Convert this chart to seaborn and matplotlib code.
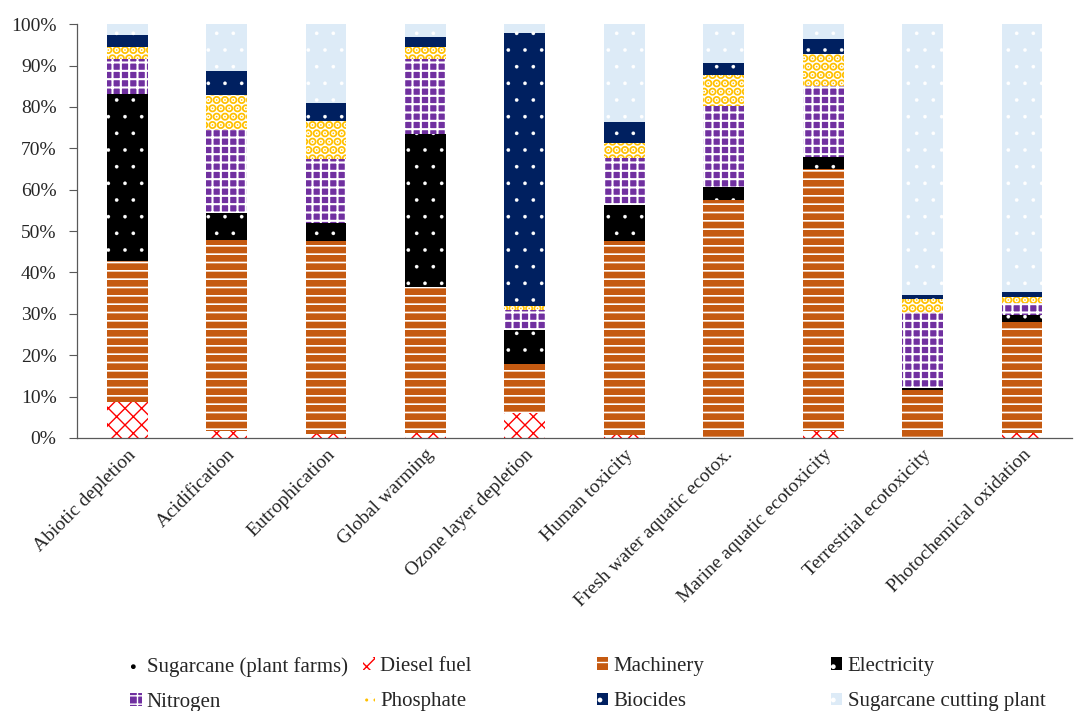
import matplotlib
matplotlib.use("Agg")
import matplotlib.pyplot as plt
import seaborn as sns
import numpy as np
from matplotlib.patches import Patch
from matplotlib.ticker import PercentFormatter

categories = ["Abiotic depletion", "Acidification", "Eutrophication", "Global warming",
              "Ozone layer depletion", "Human toxicity", "Fresh water aquatic ecotox.",
              "Marine aquatic ecotoxicity", "Terrestrial ecotoxicity", "Photochemical oxidation"]

# share of each source (%), bottom to top
sugarcane_farms = [0, 0, 0, 0, 0, 0, 0, 0, 0, 0]
diesel = [8.8, 1.8, 1.0, 1.3, 6.0, 0.7, 0.0, 1.8, 0.0, 1.2]
machinery = [34.0, 46.0, 46.5, 35.3, 11.9, 47.0, 57.5, 63.1, 11.5, 26.9]
electricity = [40.3, 6.5, 4.5, 36.8, 8.3, 8.6, 3.1, 2.9, 0.5, 1.6]
nitrogen = [8.6, 20.1, 15.5, 18.3, 4.7, 11.3, 19.6, 17.2, 18.1, 3.0]
phosphate = [2.7, 8.4, 9.0, 2.7, 1.1, 3.8, 7.5, 7.9, 3.6, 1.3]
biocides = [3.1, 5.9, 4.5, 2.4, 65.9, 4.9, 2.9, 3.6, 0.8, 1.3]
cutting_plant = [2.5, 11.3, 19.0, 3.2, 2.1, 23.7, 9.4, 3.5, 65.5, 64.7]

# name, values, face, hatch colour, hatch, hatch linewidth
series = [
    ("Sugarcane (plant farms)", sugarcane_farms, "white", "black", ".", 0.3),
    ("Diesel fuel", diesel, "white", "#FF0000", "xx", 1.0),
    ("Machinery", machinery, "#C55A11", "white", "--", 1.2),
    ("Electricity", electricity, "black", "white", ".", 0.2),
    ("Nitrogen", nitrogen, "#7030A0", "white", "++", 1.5),
    ("Phosphate", phosphate, "white", "#FFC000", "..", 4.5),
    ("Biocides", biocides, "#002060", "white", ".", 0.2),
    ("Sugarcane cutting plant", cutting_plant, "#DDEBF7", "white", ".", 0.2),
]


def set_hatch_lw(patch, lw):
    if hasattr(patch, "set_hatch_linewidth"):
        patch.set_hatch_linewidth(lw)


sns.set_theme(style="white")
plt.rcParams['font.family'] = ['Liberation Serif', 'DejaVu Serif']

fig = plt.figure(figsize=(10.75, 7.11), dpi=100)
ax = fig.add_axes([0.072, 0.384, 0.925, 0.582])

# stacked bars: draw cumulative totals from the top layer down
cum = np.cumsum([s[1] for s in series], axis=0)
for i in range(len(series) - 1, -1, -1):
    name, vals, face, hcol, hatch, hlw = series[i]
    n_before = len(ax.patches)
    with plt.rc_context({'hatch.linewidth': hlw}):
        sns.barplot(x=categories, y=cum[i], ax=ax, color=face, width=0.41,
                    saturation=1, edgecolor=hcol, linewidth=0, hatch=hatch)
    for p in ax.patches[n_before:]:
        set_hatch_lw(p, hlw)

ax.set_ylim(0, 100)
ax.set_xlim(-0.5, len(categories) - 0.5)
ax.set_yticks(np.arange(0, 101, 10))
ax.yaxis.set_major_formatter(PercentFormatter(decimals=0))
ax.tick_params(axis='y', labelsize=14, length=6, width=0.8, direction='out', left=True,
               pad=9, color='#595959')
ax.tick_params(axis='x', labelsize=14, length=0, pad=6)
plt.setp(ax.get_xticklabels(), rotation=45, ha='right', rotation_mode='anchor')
for side in ['top', 'right']:
    ax.spines[side].set_visible(False)
for side in ['left', 'bottom']:
    ax.spines[side].set_color('#595959')
    ax.spines[side].set_linewidth(0.9)
ax.set_xlabel('')
ax.set_ylabel('')

# legend in 4 equal-width columns, two rows
col_x = [0.121, 0.338, 0.555, 0.773]
for c in range(4):
    handles = []
    for r in range(2):
        name, vals, face, hcol, hatch, hlw = series[r * 4 + c]
        h = Patch(facecolor=face, edgecolor=hcol, hatch=hatch, linewidth=0, label=name)
        set_hatch_lw(h, hlw)
        handles.append(h)
    fig.legend(handles=handles, loc='upper left', bbox_to_anchor=(col_x[c], 0.076),
               frameon=False, fontsize=15, handlelength=0.55, handleheight=0.55,
               handletextpad=0.25, labelspacing=0.78, borderaxespad=0, borderpad=0)

fig.savefig("out.png", dpi=100)
